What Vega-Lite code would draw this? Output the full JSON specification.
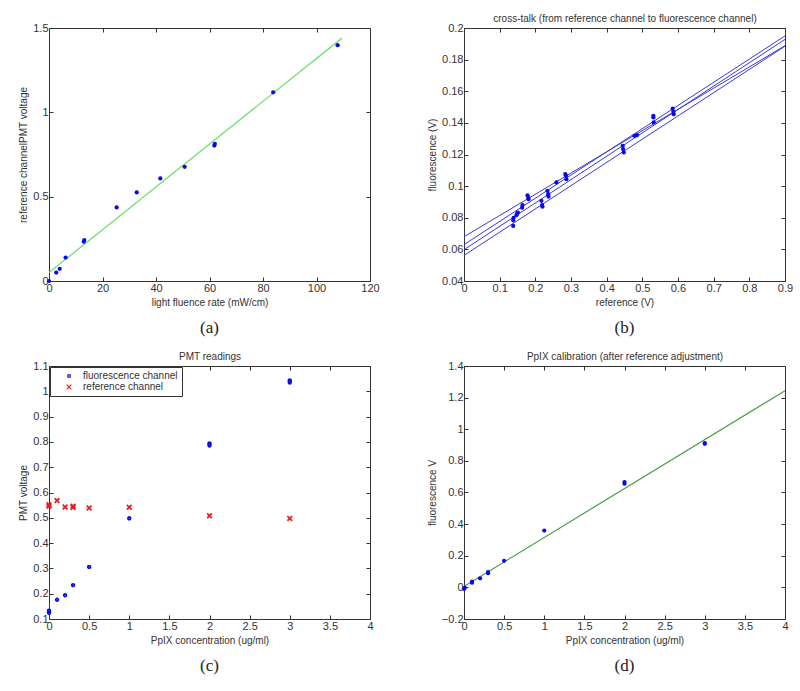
{
  "$schema": "https://vega.github.io/schema/vega-lite/v6.json",
  "padding": {"left": 18, "top": 13, "right": 5, "bottom": 5},
  "background": "white",
  "columns": 2,
  "spacing": {"row": 85, "column": 94},
  "bounds": "flush",
  "resolve": {
    "scale": {"color": "independent", "shape": "independent", "size": "independent"},
    "legend": {"color": "independent", "shape": "independent", "size": "independent"}
  },
  "datasets": {
    "a_pts": [
      {"x": 0, "y": 0}, {"x": 2.7, "y": 0.05}, {"x": 4, "y": 0.072}, {"x": 6.2, "y": 0.139},
      {"x": 13, "y": 0.233}, {"x": 13.2, "y": 0.243}, {"x": 25.3, "y": 0.436}, {"x": 32.8, "y": 0.525},
      {"x": 41.6, "y": 0.608}, {"x": 50.7, "y": 0.677}, {"x": 61.8, "y": 0.803}, {"x": 62, "y": 0.813},
      {"x": 83.8, "y": 1.119}, {"x": 107.9, "y": 1.398}
    ],
    "a_line": [{"x": 0, "y": 0.05}, {"x": 109.5, "y": 1.44}],
    "b_lines": [
      {"id": "1", "x": 0, "y": 0.068}, {"id": "1", "x": 0.9, "y": 0.1888},
      {"id": "2", "x": 0, "y": 0.063}, {"id": "2", "x": 0.9, "y": 0.195},
      {"id": "3", "x": 0, "y": 0.0598}, {"id": "3", "x": 0.9, "y": 0.1928},
      {"id": "4", "x": 0, "y": 0.0562}, {"id": "4", "x": 0.9, "y": 0.1885}
    ],
    "b_pts": [
      {"x": 0.138, "y": 0.0748}, {"x": 0.138, "y": 0.0784}, {"x": 0.139, "y": 0.080},
      {"x": 0.147, "y": 0.0816}, {"x": 0.149, "y": 0.0826}, {"x": 0.151, "y": 0.0833},
      {"x": 0.163, "y": 0.0864}, {"x": 0.164, "y": 0.088},
      {"x": 0.178, "y": 0.0942}, {"x": 0.180, "y": 0.0928}, {"x": 0.181, "y": 0.0917},
      {"x": 0.217, "y": 0.0907}, {"x": 0.219, "y": 0.088}, {"x": 0.220, "y": 0.087},
      {"x": 0.234, "y": 0.097}, {"x": 0.236, "y": 0.0949}, {"x": 0.237, "y": 0.0934},
      {"x": 0.259, "y": 0.1023},
      {"x": 0.284, "y": 0.1076}, {"x": 0.286, "y": 0.1065}, {"x": 0.287, "y": 0.1044},
      {"x": 0.445, "y": 0.1255}, {"x": 0.446, "y": 0.1234}, {"x": 0.448, "y": 0.1213},
      {"x": 0.478, "y": 0.1318}, {"x": 0.485, "y": 0.1322},
      {"x": 0.531, "y": 0.1445}, {"x": 0.531, "y": 0.1434}, {"x": 0.532, "y": 0.1403},
      {"x": 0.585, "y": 0.149}, {"x": 0.587, "y": 0.147}, {"x": 0.588, "y": 0.1455}
    ],
    "c_pts": [
      {"x": 0, "y": 0.125, "s": "fluorescence channel"}, {"x": 0, "y": 0.133, "s": "fluorescence channel"},
      {"x": 0.1, "y": 0.176, "s": "fluorescence channel"}, {"x": 0.2, "y": 0.194, "s": "fluorescence channel"},
      {"x": 0.3, "y": 0.234, "s": "fluorescence channel"}, {"x": 0.5, "y": 0.306, "s": "fluorescence channel"},
      {"x": 1, "y": 0.498, "s": "fluorescence channel"}, {"x": 2, "y": 0.786, "s": "fluorescence channel"},
      {"x": 2, "y": 0.794, "s": "fluorescence channel"}, {"x": 3, "y": 1.035, "s": "fluorescence channel"},
      {"x": 3, "y": 1.043, "s": "fluorescence channel"},
      {"x": 0, "y": 0.546, "s": "reference channel"}, {"x": 0, "y": 0.552, "s": "reference channel"},
      {"x": 0.1, "y": 0.568, "s": "reference channel"}, {"x": 0.2, "y": 0.543, "s": "reference channel"},
      {"x": 0.3, "y": 0.546, "s": "reference channel"}, {"x": 0.3, "y": 0.541, "s": "reference channel"},
      {"x": 0.5, "y": 0.539, "s": "reference channel"}, {"x": 1, "y": 0.542, "s": "reference channel"},
      {"x": 2, "y": 0.508, "s": "reference channel"}, {"x": 3, "y": 0.497, "s": "reference channel"}
    ],
    "d_pts": [
      {"x": 0, "y": -0.01}, {"x": 0.01, "y": -0.003}, {"x": 0.1, "y": 0.03}, {"x": 0.1, "y": 0.036},
      {"x": 0.2, "y": 0.057}, {"x": 0.3, "y": 0.09}, {"x": 0.3, "y": 0.097}, {"x": 0.5, "y": 0.168},
      {"x": 1, "y": 0.359}, {"x": 2, "y": 0.656}, {"x": 2, "y": 0.666}, {"x": 3, "y": 0.908}, {"x": 3, "y": 0.913}
    ],
    "d_line": [{"x": 0, "y": 0.006}, {"x": 4, "y": 1.244}]
  },
  "concat": [
    {
      "width": 321, "height": 253,
      "title": {"text": "(a)", "orient": "bottom", "offset": 13},
      "layer": [
        {
          "data": {"name": "a_line"},
          "mark": {"type": "line", "color": "#74e074", "strokeWidth": 1.3},
          "encoding": {
            "x": {"field": "x", "type": "quantitative", "scale": {"domain": [0, 120], "nice": false, "zero": false},
                  "axis": {"orient": "top", "labels": false, "title": null, "values": [0, 20, 40, 60, 80, 100, 120]}},
            "y": {"field": "y", "type": "quantitative", "scale": {"domain": [0, 1.5], "nice": false, "zero": false},
                  "axis": {"orient": "right", "labels": false, "title": null, "values": [0, 0.5, 1, 1.5]}}
          }
        },
        {
          "data": {"name": "a_pts"},
          "mark": {"type": "point", "filled": true, "color": "#0a0ae6", "size": 18, "opacity": 1},
          "encoding": {
            "x": {"field": "x", "type": "quantitative", "scale": {"domain": [0, 120], "nice": false, "zero": false},
                  "axis": {"orient": "bottom", "title": "light fluence rate (mW/cm)", "values": [0, 20, 40, 60, 80, 100, 120], "format": "~f"}},
            "y": {"field": "y", "type": "quantitative", "scale": {"domain": [0, 1.5], "nice": false, "zero": false},
                  "axis": {"orient": "left", "title": "reference channelPMT voltage", "values": [0, 0.5, 1, 1.5], "format": "~f"}}
          }
        }
      ],
      "resolve": {"axis": {"x": "independent", "y": "independent"}}
    },
    {
      "width": 321, "height": 253,
      "title": {"text": "(b)", "orient": "bottom", "offset": 13},
      "layer": [
        {
          "data": {"name": "b_lines"},
          "mark": {"type": "line", "color": "#3a3ad8", "strokeWidth": 1},
          "encoding": {
            "detail": {"field": "id"},
            "x": {"field": "x", "type": "quantitative", "scale": {"domain": [0, 0.9], "nice": false, "zero": false},
                  "axis": {"orient": "top", "labels": false, "title": "cross-talk (from reference channel to fluorescence channel)", "titlePadding": 4, "values": [0, 0.1, 0.2, 0.3, 0.4, 0.5, 0.6, 0.7, 0.8, 0.9]}},
            "y": {"field": "y", "type": "quantitative", "scale": {"domain": [0.04, 0.2], "nice": false, "zero": false},
                  "axis": {"orient": "right", "labels": false, "title": null, "values": [0.04, 0.06, 0.08, 0.1, 0.12, 0.14, 0.16, 0.18, 0.2]}}
          }
        },
        {
          "data": {"name": "b_pts"},
          "mark": {"type": "point", "filled": true, "color": "#0a0ae6", "size": 18, "opacity": 1},
          "encoding": {
            "x": {"field": "x", "type": "quantitative", "scale": {"domain": [0, 0.9], "nice": false, "zero": false},
                  "axis": {"orient": "bottom", "title": "reference (V)", "values": [0, 0.1, 0.2, 0.3, 0.4, 0.5, 0.6, 0.7, 0.8, 0.9], "format": "~f"}},
            "y": {"field": "y", "type": "quantitative", "scale": {"domain": [0.04, 0.2], "nice": false, "zero": false},
                  "axis": {"orient": "left", "title": "fluorescence (V)", "values": [0.04, 0.06, 0.08, 0.1, 0.12, 0.14, 0.16, 0.18, 0.2], "format": "~f"}}
          }
        }
      ],
      "resolve": {"axis": {"x": "independent", "y": "independent"}}
    },
    {
      "width": 321, "height": 253,
      "title": {"text": "(c)", "orient": "bottom", "offset": 13},
      "layer": [
        {
          "data": {"name": "c_pts"},
          "mark": {"type": "point", "filled": false, "opacity": 1, "strokeWidth": 1.8},
          "encoding": {
            "x": {"field": "x", "type": "quantitative", "scale": {"domain": [0, 4], "nice": false, "zero": false},
                  "axis": {"orient": "bottom", "title": "PpIX concentration (ug/ml)", "values": [0, 0.5, 1, 1.5, 2, 2.5, 3, 3.5, 4], "format": "~f"}},
            "y": {"field": "y", "type": "quantitative", "scale": {"domain": [0.1, 1.1], "nice": false, "zero": false},
                  "axis": {"orient": "left", "title": "PMT voltage", "values": [0.1, 0.2, 0.3, 0.4, 0.5, 0.6, 0.7, 0.8, 0.9, 1, 1.1], "format": "~f"}},
            "color": {"field": "s", "type": "nominal", "scale": {"domain": ["fluorescence channel", "reference channel"], "range": ["#0a0ae6", "#e62020"]},
                      "legend": {"orient": "top-left", "title": null, "offset": 1, "padding": 4, "strokeColor": "#333", "fillColor": "white", "labelFontSize": 10, "labelFont": "Liberation Sans", "labelColor": "#333", "rowPadding": 1, "symbolStrokeWidth": 1.2, "symbolSize": 12, "labelOffset": 9, "symbolOffset": 10}},
            "shape": {"field": "s", "type": "nominal", "scale": {"domain": ["fluorescence channel", "reference channel"], "range": ["circle", "M-1,-1L1,1M-1,1L1,-1"]}},
            "size": {"field": "s", "type": "nominal", "scale": {"domain": ["fluorescence channel", "reference channel"], "range": [7, 22]}, "legend": null}
          }
        },
        {
          "data": {"name": "c_pts"},
          "mark": {"type": "point", "opacity": 0},
          "encoding": {
            "x": {"field": "x", "type": "quantitative", "scale": {"domain": [0, 4], "nice": false, "zero": false},
                  "axis": {"orient": "top", "labels": false, "title": "PMT readings", "titlePadding": 4, "values": [0, 0.5, 1, 1.5, 2, 2.5, 3, 3.5, 4]}},
            "y": {"field": "y", "type": "quantitative", "scale": {"domain": [0.1, 1.1], "nice": false, "zero": false},
                  "axis": {"orient": "right", "labels": false, "title": null, "values": [0.1, 0.2, 0.3, 0.4, 0.5, 0.6, 0.7, 0.8, 0.9, 1, 1.1]}}
          }
        }
      ],
      "resolve": {"axis": {"x": "independent", "y": "independent"}}
    },
    {
      "width": 321, "height": 253,
      "title": {"text": "(d)", "orient": "bottom", "offset": 13},
      "layer": [
        {
          "data": {"name": "d_line"},
          "mark": {"type": "line", "color": "#4a9e4a", "strokeWidth": 1.2},
          "encoding": {
            "x": {"field": "x", "type": "quantitative", "scale": {"domain": [0, 4], "nice": false, "zero": false},
                  "axis": {"orient": "top", "labels": false, "title": "PpIX calibration (after reference adjustment)", "titlePadding": 4, "values": [0, 0.5, 1, 1.5, 2, 2.5, 3, 3.5, 4]}},
            "y": {"field": "y", "type": "quantitative", "scale": {"domain": [-0.2, 1.4], "nice": false, "zero": false},
                  "axis": {"orient": "right", "labels": false, "title": null, "values": [-0.2, 0, 0.2, 0.4, 0.6, 0.8, 1, 1.2, 1.4]}}
          }
        },
        {
          "data": {"name": "d_pts"},
          "mark": {"type": "point", "filled": true, "color": "#0a0ae6", "size": 18, "opacity": 1},
          "encoding": {
            "x": {"field": "x", "type": "quantitative", "scale": {"domain": [0, 4], "nice": false, "zero": false},
                  "axis": {"orient": "bottom", "title": "PpIX concentration (ug/ml)", "values": [0, 0.5, 1, 1.5, 2, 2.5, 3, 3.5, 4], "format": "~f"}},
            "y": {"field": "y", "type": "quantitative", "scale": {"domain": [-0.2, 1.4], "nice": false, "zero": false},
                  "axis": {"orient": "left", "title": "fluorescence V", "values": [-0.2, 0, 0.2, 0.4, 0.6, 0.8, 1, 1.2, 1.4], "format": "~f"}}
          }
        }
      ],
      "resolve": {"axis": {"x": "independent", "y": "independent"}}
    }
  ],
  "config": {
    "view": {"stroke": null},
    "axis": {
      "grid": false,
      "domainColor": "#333",
      "tickColor": "#333",
      "labelColor": "#333",
      "titleColor": "#333",
      "labelFont": "Liberation Sans",
      "titleFont": "Liberation Sans",
      "labelFontSize": 11,
      "titleFontSize": 10,
      "titleFontWeight": "normal",
      "tickSize": -4,
      "labelPadding": 5,
      "titlePadding": 4,
      "labelFlush": false,
      "labelOverlap": false
    },
    "title": {"font": "Liberation Serif", "fontSize": 17, "fontWeight": "normal", "color": "#222", "anchor": "middle"}
  }
}
